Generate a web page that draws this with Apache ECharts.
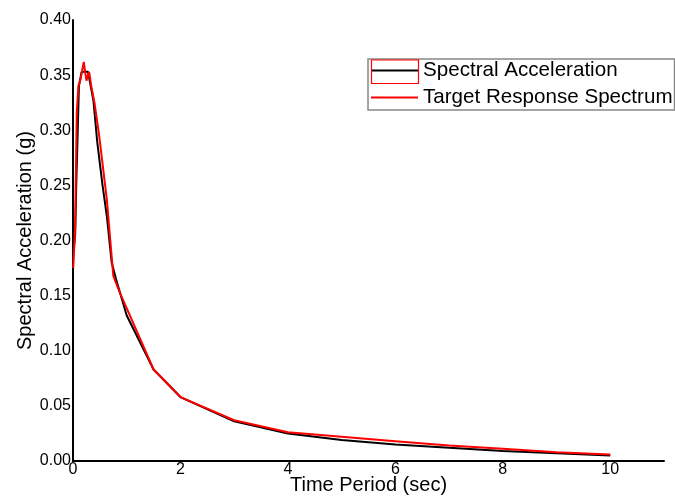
<!DOCTYPE html>
<html>
<head>
<meta charset="utf-8">
<script src="https://cdn.jsdelivr.net/npm/echarts@6/dist/echarts.min.js"></script>
<style>
  html, body { margin: 0; padding: 0; background: #fff; }
  #chart { width: 675px; height: 499px; }
</style>
</head>
<body>
<div id="chart"></div>
<script>
// spectral acceleration (computed) - black
const accelPeriods = [0.01, 0.04, 0.06, 0.08, 0.11, 0.16, 0.22, 0.28, 0.38, 0.45, 0.55, 0.63, 0.72, 0.8, 1.0, 1.5, 2, 3, 4, 5, 6, 7, 8, 9, 10];
const accelValues = [0.19, 0.205, 0.25, 0.285, 0.34, 0.353, 0.353, 0.353, 0.327, 0.29, 0.25, 0.222, 0.18, 0.165, 0.132, 0.083, 0.058, 0.036, 0.025, 0.019, 0.015, 0.012, 0.009, 0.007, 0.005];

// target response spectrum - red
const targetPeriods = [0.005, 0.04, 0.07, 0.1, 0.14, 0.2, 0.25, 0.3, 0.34, 0.4, 0.49, 0.63, 0.75, 0.87, 1.5, 2, 3, 4, 5, 6, 7, 8, 9, 10];
const targetValues = [0.175, 0.212, 0.316, 0.34, 0.346, 0.362, 0.345, 0.353, 0.34, 0.325, 0.294, 0.237, 0.168, 0.153, 0.083, 0.058, 0.037, 0.026, 0.022, 0.018, 0.014, 0.011, 0.008, 0.006];

const seriesNames = ['Spectral Acceleration', 'Target Response Spectrum'];

const font = '"Liberation Sans", Arial, sans-serif';

function pairs(xs, ys) {
  return xs.map((x, i) => [x, ys[i]]);
}

const chart = echarts.init(document.getElementById('chart'));

chart.setOption({
  animation: false,
  backgroundColor: '#fff',
  grid: { left: 73, right: 11, top: 20, bottom: 38, containLabel: false, outerBoundsMode: 'none' },
  legend: {
    orient: 'vertical',
    left: 368,
    top: 59,
    padding: [1, 2, 2, 3],
    itemGap: 6,
    itemWidth: 47,
    itemHeight: 2,
    icon: 'rect',
    borderColor: '#888',
    borderWidth: 1.5,
    textStyle: { fontFamily: font, fontSize: 20.6, color: '#000', lineHeight: 20 },
    data: seriesNames
  },
  xAxis: {
    type: 'value',
    min: 0,
    max: 11,
    interval: 2,
    name: 'Time Period (sec)',
    nameLocation: 'middle',
    nameGap: 14,
    nameMoveOverlap: false,
    nameTextStyle: { fontFamily: font, fontSize: 20, color: '#000' },
    axisLine: { show: true, lineStyle: { color: '#000', width: 2 } },
    axisTick: { show: false },
    splitLine: { show: false },
    axisLabel: {
      margin: 1,
      showMaxLabel: false,
      fontFamily: font,
      fontSize: 16,
      color: '#000',
      formatter: v => (v % 2 === 0 ? String(v) : '')
    }
  },
  yAxis: {
    type: 'value',
    min: 0,
    max: 0.4,
    interval: 0.05,
    name: 'Spectral Acceleration (g)',
    nameLocation: 'middle',
    nameGap: 38,
    nameMoveOverlap: false,
    nameTextStyle: { fontFamily: font, fontSize: 20, color: '#000' },
    axisLine: { show: true, lineStyle: { color: '#000', width: 2 } },
    axisTick: { show: false },
    splitLine: { show: false },
    axisLabel: {
      margin: 2,
      fontFamily: font,
      fontSize: 16,
      color: '#000',
      formatter: v => v.toFixed(2)
    }
  },
  graphic: [{
    type: 'rect',
    z: 100,
    shape: { x: 371.5, y: 60, width: 47, height: 23.5 },
    style: { fill: 'rgba(0,0,0,0)', stroke: '#ff0000', lineWidth: 1.2 }
  }],
  series: [
    {
      name: seriesNames[0],
      type: 'line',
      data: pairs(accelPeriods, accelValues),
      showSymbol: false,
      symbol: 'none',
      lineStyle: { color: '#000', width: 2 },
      itemStyle: { color: '#000' },
      z: 2
    },
    {
      name: seriesNames[1],
      type: 'line',
      data: pairs(targetPeriods, targetValues),
      showSymbol: false,
      symbol: 'none',
      lineStyle: { color: '#ff0000', width: 2 },
      itemStyle: { color: '#ff0000' },
      z: 3
    }
  ]
});
</script>
</body>
</html>
